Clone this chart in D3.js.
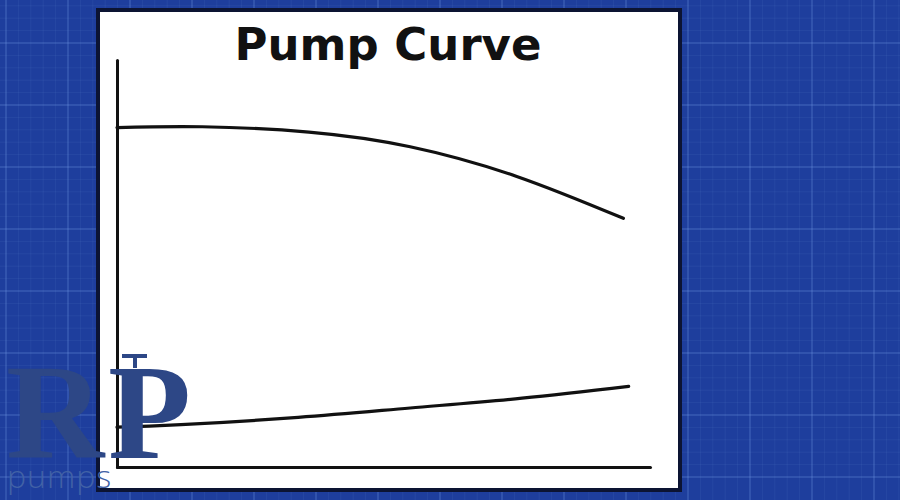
<!DOCTYPE html>
<html>
<head>
<meta charset="utf-8">
<script src="https://cdn.jsdelivr.net/npm/d3@7"></script>
<style>
  html, body { margin: 0; padding: 0; background: #1e3e9d; }
  svg { display: block; }
</style>
</head>
<body>
<svg id="chart" width="900" height="500"></svg>
<script>
// ---- data ----
const title = "Pump Curve";
const headFlow = [0, 16, 36, 55, 75, 95];
const headValues = [83.4, 83.6, 82.3, 78.7, 71.4, 61.1];
const powerFlow = [0, 12, 34, 55, 76, 96];
const powerValues = [9.8, 10.4, 12.2, 14.5, 16.9, 19.8];
const xDomain = [0, 100];
const yDomain = [0, 100];
const logoLetters = ["R", "P"];
const logoWord = "pumps";

const W = 900, H = 500;
const svg = d3.select("#chart");

// ---- blueprint background ----
svg.append("rect").attr("width", W).attr("height", H).attr("fill", "#1e3e9d");
const grid = svg.append("g");
const minor = 12.4, major = 62;
d3.range(0, W + 1, minor).forEach(x => {
  const isMajor = Math.abs((x / major) - Math.round(x / major)) < 0.01;
  grid.append("line").attr("x1", x + 6).attr("x2", x + 6).attr("y1", 0).attr("y2", H)
    .attr("stroke", isMajor ? "rgba(120,160,230,0.22)" : "rgba(120,160,230,0.10)")
    .attr("stroke-width", isMajor ? 2 : 1);
});
d3.range(0, H + 1, minor).forEach(y => {
  const isMajor = Math.abs((y / major) - Math.round(y / major)) < 0.01;
  grid.append("line").attr("x1", 0).attr("x2", W).attr("y1", y - 19).attr("y2", y - 19)
    .attr("stroke", isMajor ? "rgba(120,160,230,0.22)" : "rgba(120,160,230,0.10)")
    .attr("stroke-width", isMajor ? 2 : 1);
});

// ---- white panel ----
svg.append("rect")
  .attr("x", 98).attr("y", 10).attr("width", 582).attr("height", 480)
  .attr("fill", "#ffffff").attr("stroke", "#0c1433").attr("stroke-width", 4);

// ---- title ----
svg.append("text")
  .attr("x", 388).attr("y", 60)
  .attr("text-anchor", "middle")
  .attr("font-family", "'DejaVu Sans', sans-serif")
  .attr("font-weight", 700)
  .attr("font-size", 45)
  .attr("fill", "#111")
  .text(title);

// ---- scales & axes ----
const x = d3.scaleLinear().domain(xDomain).range([117, 650]);
const y = d3.scaleLinear().domain(yDomain).range([467, 60]);

const axisStyle = g => {
  g.select(".domain").attr("stroke", "#111").attr("stroke-width", 3).attr("stroke-linecap", "round");
  g.selectAll(".tick").remove();
};
svg.append("g").attr("transform", `translate(117,0)`)
  .call(d3.axisLeft(y).ticks(0).tickSize(0).tickSizeOuter(0)).call(axisStyle);
svg.append("g").attr("transform", `translate(0,467)`)
  .call(d3.axisBottom(x).ticks(0).tickSize(0).tickSizeOuter(0)).call(axisStyle);

// ---- curves ----
const line = d3.line().x(d => x(d[0])).y(d => y(d[1])).curve(d3.curveNatural);
const headPts = headFlow.map((f, i) => [f, headValues[i]]);
const powerPts = powerFlow.map((f, i) => [f, powerValues[i]]);

[headPts, powerPts].forEach(pts => {
  svg.append("path").datum(pts)
    .attr("d", line)
    .attr("fill", "none")
    .attr("stroke", "#111")
    .attr("stroke-width", 3.2)
    .attr("stroke-linecap", "round");
});

// ---- logo ----
const logo = svg.append("g");
logo.append("text")
  .attr("x", 6).attr("y", 458)
  .attr("font-family", "'Liberation Serif', 'DejaVu Serif', serif")
  .attr("font-weight", 700).attr("font-size", 136)
  .attr("fill", "#2d4786")
  .text(logoLetters[0]);
logo.append("text")
  .attr("x", 108).attr("y", 458)
  .attr("font-family", "'Liberation Serif', 'DejaVu Serif', serif")
  .attr("font-weight", 700).attr("font-size", 136)
  .attr("fill", "#2d4786")
  .text(logoLetters[1]);
// pump handle on top of the P
logo.append("rect").attr("x", 122).attr("y", 354).attr("width", 25).attr("height", 4).attr("fill", "#2d4786");
logo.append("rect").attr("x", 133).attr("y", 356).attr("width", 4).attr("height", 12).attr("fill", "#2d4786");
logo.append("text")
  .attr("x", 7).attr("y", 488)
  .attr("font-family", "'Open Sans', Lato, sans-serif")
  .attr("font-weight", 300).attr("font-size", 32)
  .attr("letter-spacing", 1)
  .attr("fill", "#4262a6")
  .text(logoWord);
</script>
</body>
</html>
